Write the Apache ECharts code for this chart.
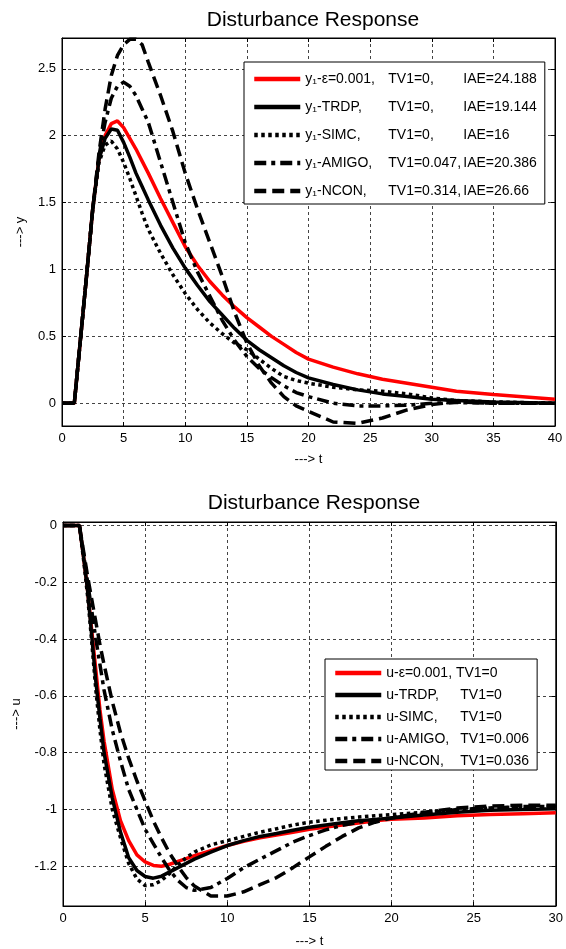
<!DOCTYPE html>
<html lang="en">
<head>
<meta charset="UTF-8">
<title>Disturbance Response</title>
<style>
    html, body { margin: 0; padding: 0; background: #fff; }
    #chart { width: 566px; height: 949px; }
</style>
</head>
<body>
<div id="chart"></div>
<script src="https://cdn.jsdelivr.net/npm/echarts@6/dist/echarts.min.js"></script>
<script>
    // 上图: y 输出
    const tTop = [0, 1, 1.5, 2, 2.5, 3, 3.5, 4, 4.5, 5, 5.5, 6, 6.5, 7, 8, 9, 10, 11, 12, 13, 14, 15, 16, 17, 18, 19, 20, 22, 24, 26, 28, 30, 32, 35, 40]
    const yEps = [0, 0, 0.48, 0.96, 1.46, 1.83, 2.0, 2.09, 2.11, 2.06, 1.98, 1.9, 1.81, 1.72, 1.53, 1.35, 1.17, 1.03, 0.91, 0.81, 0.72, 0.64, 0.57, 0.5, 0.44, 0.38, 0.33, 0.27, 0.22, 0.18, 0.15, 0.12, 0.09, 0.065, 0.03]
    const yTRDP = [0, 0, 0.48, 0.96, 1.46, 1.82, 1.98, 2.05, 2.04, 1.95, 1.84, 1.72, 1.62, 1.52, 1.33, 1.16, 1.01, 0.88, 0.76, 0.66, 0.56, 0.47, 0.4, 0.34, 0.28, 0.23, 0.19, 0.14, 0.1, 0.07, 0.05, 0.03, 0.02, 0.01, 0]
    const ySIMC = [0, 0, 0.48, 0.96, 1.45, 1.8, 1.93, 1.96, 1.9, 1.8, 1.68, 1.55, 1.42, 1.3, 1.12, 0.96, 0.82, 0.7, 0.6, 0.52, 0.45, 0.4, 0.33, 0.26, 0.2, 0.17, 0.15, 0.12, 0.1, 0.09, 0.07, 0.04, 0.02, 0.01, 0]
    const yAMIGO = [0, 0, 0.48, 0.96, 1.46, 1.85, 2.1, 2.28, 2.37, 2.4, 2.37, 2.3, 2.2, 2.1, 1.8, 1.5, 1.2, 0.98, 0.8, 0.62, 0.47, 0.35, 0.26, 0.19, 0.13, 0.08, 0.05, 0, -0.02, -0.02, -0.015, 0, 0.005, 0, 0]
    const yNCON = [0, 0, 0.48, 0.96, 1.46, 1.87, 2.2, 2.45, 2.6, 2.68, 2.72, 2.72, 2.68, 2.55, 2.3, 2.03, 1.72, 1.45, 1.2, 0.95, 0.68, 0.45, 0.28, 0.15, 0.05, -0.02, -0.06, -0.14, -0.15, -0.11, -0.05, -0.01, 0.01, 0, 0]

    // 下图: u 控制量
    const tBot = [0, 1, 1.25, 1.5, 1.75, 2, 2.25, 2.5, 3, 3.5, 4, 4.5, 5, 5.5, 6, 6.5, 7, 7.5, 8, 9, 10, 11, 12, 13, 14, 15, 16, 17, 18, 19, 20, 22, 24, 26, 28, 30]
    const uEps = [0, 0, -0.11, -0.23, -0.37, -0.51, -0.65, -0.76, -0.93, -1.04, -1.11, -1.16, -1.185, -1.197, -1.2, -1.193, -1.183, -1.173, -1.163, -1.145, -1.127, -1.112, -1.1, -1.09, -1.08, -1.07, -1.062, -1.055, -1.048, -1.04, -1.035, -1.03, -1.022, -1.018, -1.015, -1.012]
    const uTRDP = [0, 0, -0.11, -0.23, -0.39, -0.55, -0.68, -0.8, -0.96, -1.08, -1.17, -1.215, -1.236, -1.242, -1.235, -1.22, -1.205, -1.19, -1.175, -1.15, -1.127, -1.11, -1.095, -1.085, -1.073, -1.063, -1.055, -1.047, -1.04, -1.035, -1.03, -1.02, -1.01, -1.003, -1.0, -0.998]
    const uSIMC = [0, 0, -0.12, -0.25, -0.41, -0.58, -0.72, -0.84, -1.0, -1.1, -1.19, -1.245, -1.268, -1.265, -1.25, -1.225, -1.195, -1.17, -1.15, -1.125, -1.11, -1.095, -1.08, -1.068, -1.055, -1.045, -1.038, -1.032, -1.027, -1.022, -1.018, -1.01, -1.0, -0.995, -0.992, -0.99]
    const uAMIGO = [0, 0, -0.1, -0.2, -0.3, -0.4, -0.49, -0.58, -0.72, -0.83, -0.93, -1.0, -1.07, -1.12, -1.17, -1.215, -1.25, -1.275, -1.285, -1.275, -1.243, -1.205, -1.175, -1.145, -1.115, -1.092, -1.072, -1.056, -1.045, -1.037, -1.03, -1.015, -1.0, -0.995, -0.99, -0.99]
    const uNCON = [0, 0, -0.09, -0.18, -0.26, -0.34, -0.42, -0.49, -0.62, -0.73, -0.82, -0.9, -0.97, -1.04, -1.1, -1.155, -1.2, -1.24, -1.27, -1.305, -1.305, -1.29, -1.265, -1.24, -1.205, -1.167, -1.13, -1.095, -1.065, -1.045, -1.03, -1.01, -0.995, -0.988, -0.985, -0.985]

    // 刻度
    const yTicksTop = [0, 0.5, 1, 1.5, 2, 2.5]
    const uTicksBot = [0, -0.2, -0.4, -0.6, -0.8, -1, -1.2]

    // 图例文字
    const legendTop = [
        ['y₁-ε=0.001,', 'TV1=0,', 'IAE=24.188'],
        ['y₁-TRDP,', 'TV1=0,', 'IAE=19.144'],
        ['y₁-SIMC,', 'TV1=0,', 'IAE=16'],
        ['y₁-AMIGO,', 'TV1=0.047,', 'IAE=20.386'],
        ['y₁-NCON,', 'TV1=0.314,', 'IAE=26.66']
    ]
    const legendBot = [
        ['u-ε=0.001, TV1=0', ''],
        ['u-TRDP,', 'TV1=0'],
        ['u-SIMC,', 'TV1=0'],
        ['u-AMIGO,', 'TV1=0.006'],
        ['u-NCON,', 'TV1=0.036']
    ]

    const FONT = 'Liberation Sans, Arial, DejaVu Sans, sans-serif'
    const styles = [
        { color: '#ff0000', width: 3.5, type: 'solid' },
        { color: '#000', width: 3.5, type: 'solid' },
        { color: '#000', width: 3.5, type: [3.5, 3.5] },
        { color: '#000', width: 3.5, type: [12, 5, 4, 5] },
        { color: '#000', width: 3.5, type: [12, 6] }
    ]
    const topNames = ['y-eps', 'y-TRDP', 'y-SIMC', 'y-AMIGO', 'y-NCON']
    const botNames = ['u-eps', 'u-TRDP', 'u-SIMC', 'u-AMIGO', 'u-NCON']
    const topData = [yEps, yTRDP, ySIMC, yAMIGO, yNCON]
    const botData = [uEps, uTRDP, uSIMC, uAMIGO, uNCON]

    const zip = (t, v) => t.map((x, i) => [x, v[i]])
    const near = (arr, v) => arr.some(a => Math.abs(a - v) < 1e-6)

    const gridLine = { show: true, lineStyle: { color: '#444', width: 1, type: [3, 3] } }
    const frameLine = { show: true, onZero: false, lineStyle: { color: '#000', width: 1 } }
    const tick = { show: true, inside: true, length: 4, lineStyle: { color: '#000' } }
    const label = { color: '#000', fontSize: 13, fontFamily: FONT }
    const nameStyle = { color: '#000', fontSize: 13, fontFamily: FONT }

    function xAxes(gi, max, gap) {
        return [{
            gridIndex: gi, type: 'value', min: 0, max: max, interval: 5,
            name: '---> t', nameLocation: 'middle', nameGap: gap, nameTextStyle: nameStyle,
            axisLine: frameLine, axisTick: tick, splitLine: gridLine,
            axisLabel: Object.assign({ margin: 6 }, label)
        }, {
            gridIndex: gi, type: 'value', position: 'top', min: 0, max: max, interval: 5,
            axisLine: frameLine, axisTick: tick, splitLine: { show: false }, axisLabel: { show: false }
        }]
    }
    // 不设 interval，让 ECharts 从 0 起算整刻度，再用 formatter 过滤端点
    function yAxes(gi, min, max, split, ticks, name, gap) {
        return [{
            gridIndex: gi, type: 'value', min: min, max: max, splitNumber: split,
            name: name, nameLocation: 'middle', nameGap: gap, nameTextStyle: nameStyle,
            axisLine: frameLine, axisTick: tick, splitLine: gridLine,
            axisLabel: Object.assign({ margin: 6, showMinLabel: false, showMaxLabel: false,
                formatter: v => near(ticks, v) ? String(Math.round(v * 10) / 10) : '' }, label)
        }, {
            gridIndex: gi, type: 'value', position: 'right', min: min, max: max, splitNumber: split,
            axisLine: frameLine, axisTick: tick, splitLine: { show: false }, axisLabel: { show: false }
        }]
    }

    const series = []
    topNames.forEach((n, i) => series.push({
        name: n, type: 'line', xAxisIndex: 0, yAxisIndex: 0, symbol: 'none',
        data: zip(tTop, topData[i]), lineStyle: styles[i], itemStyle: { color: styles[i].color }, z: 2 + i
    }))
    botNames.forEach((n, i) => series.push({
        name: n, type: 'line', xAxisIndex: 2, yAxisIndex: 2, symbol: 'none',
        data: zip(tBot, botData[i]), lineStyle: styles[i], itemStyle: { color: styles[i].color }, z: 2 + i
    }))

    const legendBase = {
        orient: 'vertical', itemWidth: 46, itemHeight: 14,
        backgroundColor: '#fff', borderColor: '#000', borderWidth: 1, borderRadius: 0,
        itemStyle: { opacity: 0 },
        lineStyle: { width: 4.5 }
    }

    const titleStyle = { color: '#000', fontSize: 21, fontWeight: 'normal', fontFamily: FONT }

    const echart = echarts.init(document.getElementById('chart'), null, { renderer: 'canvas' })
    echart.setOption({
        backgroundColor: '#fff',
        animation: false,
        title: [
            { text: 'Disturbance Response', left: 308, top: 5, textAlign: 'center', textStyle: titleStyle },
            { text: 'Disturbance Response', left: 309, top: 488, textAlign: 'center', textStyle: titleStyle }
        ],
        grid: [
            { left: 62, right: 11, top: 38, height: 388, show: true, borderColor: '#000', borderWidth: 1, containLabel: false },
            { left: 63, right: 10, top: 522, height: 387, show: true, borderColor: '#000', borderWidth: 1, containLabel: false }
        ],
        xAxis: [...xAxes(0, 40, 27), ...xAxes(1, 30, 29)],
        yAxis: [
            ...yAxes(0, -0.17, 2.73, 6, yTicksTop, '---> y', 30),
            ...yAxes(1, -1.34, 0.012, 7, uTicksBot, '---> u', 40)
        ],
        legend: [Object.assign({}, legendBase, {
            data: topNames, left: 244, top: 62,
            padding: [10, 8, 6, 8], itemGap: 14,
            formatter: n => {
                const r = legendTop[topNames.indexOf(n)]
                return '{a|' + r[0] + '}{b|' + r[1] + '}{c|' + r[2] + '}'
            },
            textStyle: {
                color: '#000', fontSize: 14, fontFamily: FONT,
                rich: {
                    a: { width: 83, fontSize: 14, fontFamily: FONT, color: '#000' },
                    b: { width: 75, fontSize: 14, fontFamily: FONT, color: '#000' },
                    c: { fontSize: 14, fontFamily: FONT, color: '#000' }
                }
            }
        }), Object.assign({}, legendBase, {
            data: botNames, left: 325, top: 659,
            padding: [7, 8, 2, 8], itemGap: 8,
            formatter: n => {
                const r = legendBot[botNames.indexOf(n)]
                return r[1] ? '{a|' + r[0] + '}{b|' + r[1] + '}' : '{b|' + r[0] + '}'
            },
            textStyle: {
                color: '#000', fontSize: 14, fontFamily: FONT,
                rich: {
                    a: { width: 74, fontSize: 14, fontFamily: FONT, color: '#000' },
                    b: { fontSize: 14, fontFamily: FONT, color: '#000' }
                }
            }
        })],
        series: series
    })
</script>
</body>
</html>
